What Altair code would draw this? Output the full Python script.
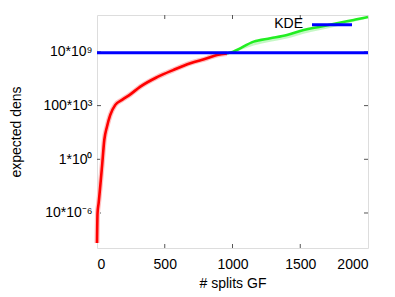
import altair as alt
import pandas as pd

# Red segment (below KDE level) and green segment (above KDE level)
red_x = [0, 4, 12, 37, 54, 74, 98, 135, 185, 246, 320, 443, 565, 689, 812, 886, 959]
red_log = [-7.79, -5.0, -4.07, -0.67, 1.82, 3.06, 4.14, 5.07, 5.54, 6.05, 6.77, 7.65, 8.33,
           8.95, 9.41, 9.72, 9.85]
green_x = [959, 1006, 1156, 1279, 1402, 1525, 1648, 1771, 1894, 1993, 2000]
green_log = [9.85, 10.03, 10.96, 11.27, 11.58, 12.05, 12.35, 12.67, 12.98, 13.23, 13.25]
green_low = [9.8, 9.95, 10.6, 10.95, 11.25, 11.7, 12.05, 12.4, 12.8, 13.15, 13.2]
kde_value = 8.5e9

y_ticks = [1e-5, 1, 1e5, 1e10]
y_tick_labels = ["10*10⁻⁶", "1*10⁰", "100*10³", "10*10⁹"]
x_ticks = [0, 500, 1000, 1500, 2000]

red = pd.DataFrame({"x": red_x, "y": [10 ** v for v in red_log]})
green = pd.DataFrame({"x": green_x, "y": [10 ** v for v in green_log],
                      "lo": [10 ** v for v in green_low]})
kde = pd.DataFrame({"y": [kde_value]})
yt = pd.DataFrame({"y": y_ticks})
xt = pd.DataFrame({"x": x_ticks[1:-1]})

label_expr = ("datum.value == 1e10 ? '" + y_tick_labels[3] + "' : datum.value == 1e5 ? '"
              + y_tick_labels[2] + "' : datum.value == 1 ? '" + y_tick_labels[1] + "' : '"
              + y_tick_labels[0] + "'")

xs = alt.Scale(domain=[0, 2000], nice=False)
ys = alt.Scale(type="log", domain=[10 ** -8.26, 10 ** 13.44], nice=False)

xaxis = alt.Axis(values=x_ticks, format="d", title="# splits GF", grid=False, tickSize=0,
                 labelPadding=9, labelFontSize=14, titleFontSize=14,
                 titleFontWeight="normal", titlePadding=5, domain=False,
                 labelColor="#000", titleColor="#000", labelFont="Liberation Sans",
                 titleFont="Liberation Sans")
yaxis = alt.Axis(values=y_ticks, title="expected dens", grid=False, tickSize=0,
                 labelExpr=label_expr, labelPadding=5, labelFontSize=14,
                 titleFontSize=14, titleFontWeight="normal", titlePadding=19,
                 domain=False, labelColor="#000", titleColor="#000",
                 labelFont="Liberation Sans", titleFont="Liberation Sans")

band = alt.Chart(green).mark_area(color="#bff7bf", opacity=0.9, interpolate="monotone").encode(
    x=alt.X("x:Q", scale=xs, axis=xaxis), y=alt.Y("lo:Q", scale=ys, axis=yaxis), y2="y:Q")

red_halo = alt.Chart(red).mark_line(color="#ffc0c0", strokeWidth=5, interpolate="monotone").encode(
    x=alt.X("x:Q", scale=xs), y=alt.Y("y:Q", scale=ys))
red_line = alt.Chart(red).mark_line(color="#ff0000", strokeWidth=2.6, interpolate="monotone").encode(
    x=alt.X("x:Q", scale=xs), y=alt.Y("y:Q", scale=ys))
green_line = alt.Chart(green).mark_line(color="#22ee22", strokeWidth=2.6, interpolate="monotone").encode(
    x=alt.X("x:Q", scale=xs), y=alt.Y("y:Q", scale=ys))
kde_line = alt.Chart(kde).mark_rule(color="#0000ff", strokeWidth=3).encode(
    y=alt.Y("y:Q", scale=ys))

tick_l = alt.Chart(yt).mark_rule(color="#555", strokeWidth=1).encode(
    y=alt.Y("y:Q", scale=ys), x=alt.value(0), x2=alt.value(4))
tick_r = alt.Chart(yt).mark_rule(color="#555", strokeWidth=1).encode(
    y=alt.Y("y:Q", scale=ys), x=alt.value(267), x2=alt.value(271))
tick_t = alt.Chart(xt).mark_rule(color="#555", strokeWidth=1).encode(
    x=alt.X("x:Q", scale=xs), y=alt.value(0), y2=alt.value(4))
tick_b = alt.Chart(xt).mark_rule(color="#555", strokeWidth=1).encode(
    x=alt.X("x:Q", scale=xs), y=alt.value(229), y2=alt.value(233))

legend_text = alt.Chart(pd.DataFrame({"t": ["KDE"]})).mark_text(
    align="right", baseline="middle", fontSize=14, font="Liberation Sans", color="#000").encode(
    x=alt.value(206), y=alt.value(8.5), text="t:N")
legend_line = alt.Chart(pd.DataFrame({"t": ["KDE"]})).mark_rule(color="#0000ff", strokeWidth=3).encode(
    x=alt.value(215), x2=alt.value(255), y=alt.value(9.7))

chart = alt.layer(band, tick_l, tick_r, tick_t, tick_b, red_halo, red_line, green_line,
                  kde_line, legend_line, legend_text).properties(
    width=271, height=233,
    autosize=alt.AutoSizeParams(type="none"),
    padding={"left": 89, "top": 7, "right": 12, "bottom": 49},
).configure_view(stroke="#666", strokeWidth=1).configure(background="white")

chart.save("out.html", embed_options={"renderer": "svg", "actions": False})
